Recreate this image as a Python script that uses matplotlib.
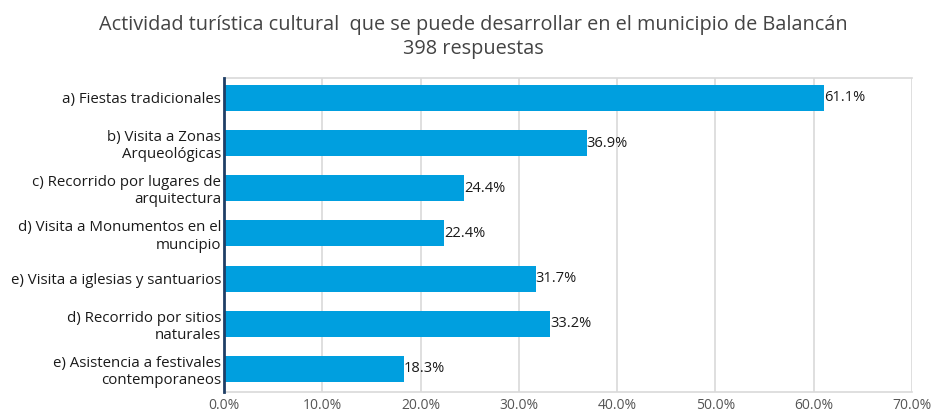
import matplotlib
matplotlib.use('Agg')
import matplotlib.pyplot as plt
from matplotlib.ticker import MultipleLocator, FuncFormatter

plt.rcParams['font.family'] = ['Open Sans', 'DejaVu Sans']

categorias = ['a) Fiestas tradicionales',
              'b) Visita a Zonas\nArqueológicas',
              'c) Recorrido por lugares de\narquitectura',
              'd) Visita a Monumentos en el\nmuncipio',
              'e) Visita a iglesias y santuarios',
              'd) Recorrido por sitios\nnaturales',
              'e) Asistencia a festivales\ncontemporaneos']
porcentajes = [61.1, 36.9, 24.4, 22.4, 31.7, 33.2, 18.3]

fig = plt.figure(figsize=(9.47, 4.15), dpi=100)
ax = fig.add_axes([0.2365, 0.0554, 0.963 - 0.2365, 0.812 - 0.0554])

pos = list(range(len(categorias)))
ax.barh(pos, porcentajes, height=0.575, color='#009FDF', zorder=3)
for y, v in zip(pos, porcentajes):
    ax.text(v, y, f'{v:.1f}%', va='center', ha='left', fontsize=10.5, color='#1a1a1a')

ax.set_xlim(0, 70)
ax.set_ylim(6.51, -0.44)
ax.xaxis.set_major_locator(MultipleLocator(10))
ax.xaxis.set_major_formatter(FuncFormatter(lambda x, p: f'{x:.1f}%'))
ax.set_yticks(pos)
ax.set_yticklabels(categorias, fontsize=10.8, color='#1a1a1a', linespacing=1.2)
ax.tick_params(axis='y', length=0, pad=2)
ax.tick_params(axis='x', length=0, pad=4, labelsize=10, labelcolor='#555555')

ax.grid(axis='x', color='#d9d9d9', linewidth=1.2, zorder=0)
for s in ['top', 'bottom', 'right']:
    ax.spines[s].set_color('#d9d9d9')
    ax.spines[s].set_linewidth(1.2)
ax.spines['right'].set_visible(False)
ax.spines['left'].set_color('#1F3F66')
ax.spines['left'].set_linewidth(2)
ax.spines['left'].set_zorder(4)

fig.text(0.5, 0.965, 'Actividad turística cultural  que se puede desarrollar en el municipio de Balancán\n398 respuestas',
         ha='center', va='top', fontsize=14.3, color='#444444', linespacing=1.3)

fig.savefig('out.png', dpi=100)
